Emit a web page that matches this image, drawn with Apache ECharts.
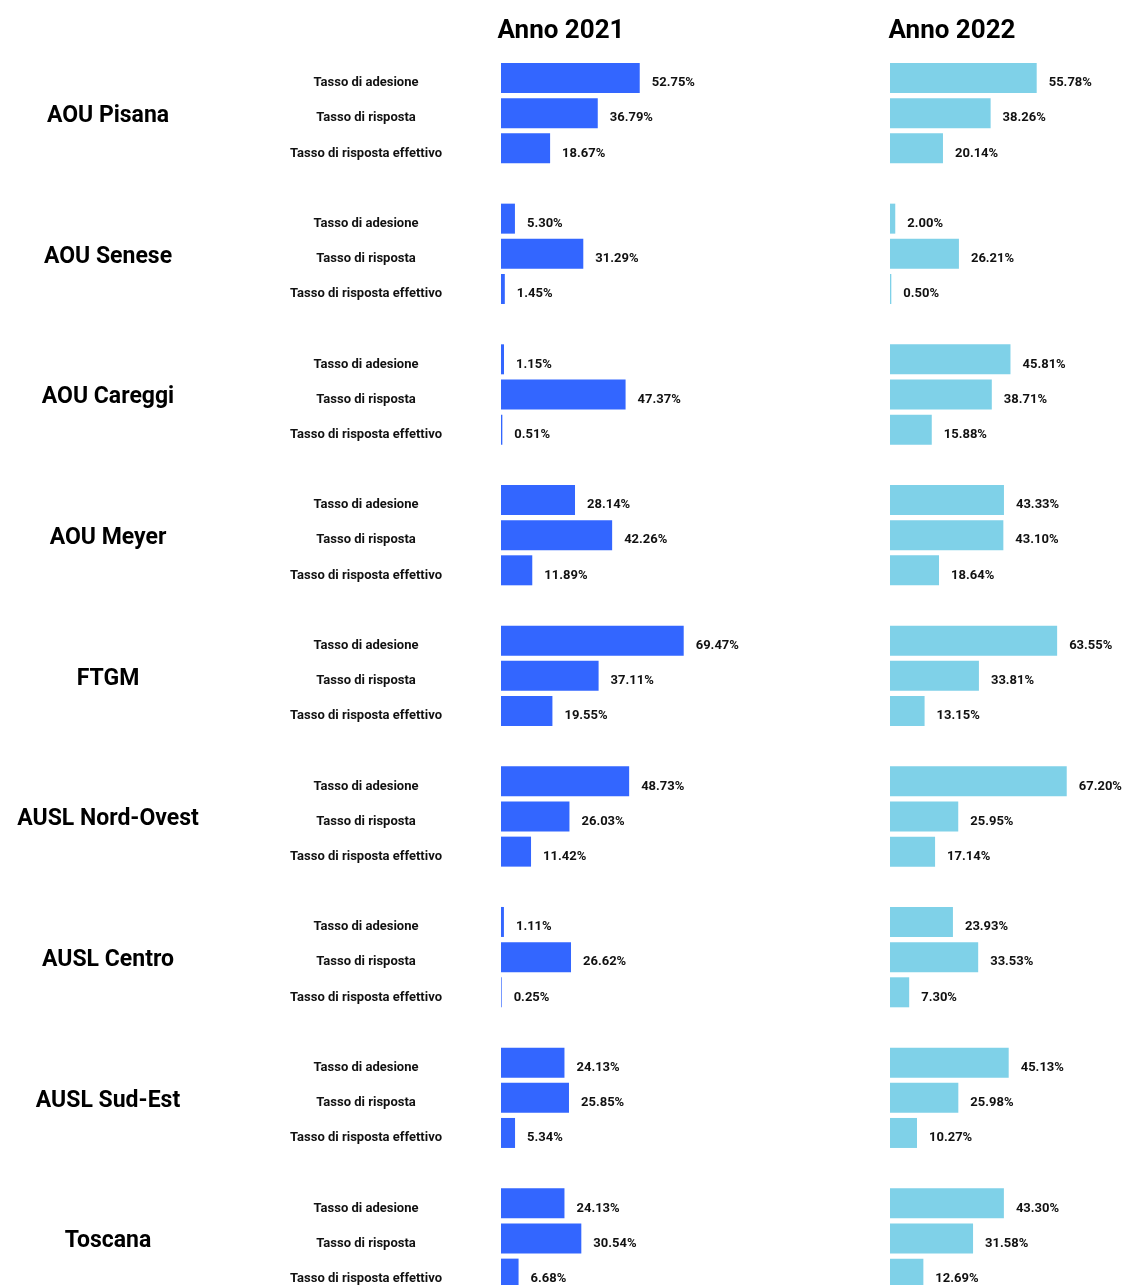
<!DOCTYPE html>
<html>
<head>
<meta charset="utf-8">
<script src="https://cdn.jsdelivr.net/npm/echarts@6/dist/echarts.min.js"></script>
<style>
    html, body { margin: 0; padding: 0; background: #fff; }
    #chart { width: 1124px; height: 1285px; }
</style>
</head>
<body>
<div id="chart"></div>
<script>
// aziende e indicatori
var groups = ['AOU Pisana', 'AOU Senese', 'AOU Careggi', 'AOU Meyer', 'FTGM',
    'AUSL Nord-Ovest', 'AUSL Centro', 'AUSL Sud-Est', 'Toscana'];
var measures = ['Tasso di adesione', 'Tasso di risposta', 'Tasso di risposta effettivo'];
var years = ['Anno 2021', 'Anno 2022'];

// valori per azienda: [adesione, risposta, risposta effettivo]
var values2021 = [
    [52.75, 36.79, 18.67],
    [5.30, 31.29, 1.45],
    [1.15, 47.37, 0.51],
    [28.14, 42.26, 11.89],
    [69.47, 37.11, 19.55],
    [48.73, 26.03, 11.42],
    [1.11, 26.62, 0.25],
    [24.13, 25.85, 5.34],
    [24.13, 30.54, 6.68]
];
var values2022 = [
    [55.78, 38.26, 20.14],
    [2.00, 26.21, 0.50],
    [45.81, 38.71, 15.88],
    [43.33, 43.10, 18.64],
    [63.55, 33.81, 13.15],
    [67.20, 25.95, 17.14],
    [23.93, 33.53, 7.30],
    [45.13, 25.98, 10.27],
    [43.30, 31.58, 12.69]
];

var FONT = "Roboto, 'Liberation Sans', sans-serif";

// una riga vuota tra un gruppo e l'altro
var measureCats = [], groupCats = [], data2021 = [], data2022 = [];
groups.forEach(function (g, i) {
    measures.forEach(function (m, j) {
        measureCats.push(m);
        groupCats.push(j === 1 ? g : '');
        data2021.push(values2021[i][j]);
        data2022.push(values2022[i][j]);
    });
    if (i < groups.length - 1) {
        measureCats.push('');
        groupCats.push('');
        data2021.push('-');
        data2022.push('-');
    }
});

var chart = echarts.init(document.getElementById('chart'));

var gridTop = 60.4, gridH = 35.166 * measureCats.length;

function valueLabel() {
    return {
        show: true,
        position: 'right',
        distance: 12,
        offset: [0, 5],
        color: '#111',
        fontFamily: FONT,
        fontWeight: 'bold',
        fontSize: 13,
        formatter: function (p) { return p.value.toFixed(2) + '%'; }
    };
}

chart.setOption({
    animation: false,
    title: [
        { text: years[0], left: 556, top: 13, textAlign: 'center',
          textStyle: { fontFamily: FONT, fontWeight: 'bold', fontSize: 26, color: '#000' } },
        { text: years[1], left: 947, top: 13, textAlign: 'center',
          textStyle: { fontFamily: FONT, fontWeight: 'bold', fontSize: 26, color: '#000' } }
    ],
    // il grafico prosegue oltre il bordo inferiore, come nell'originale
    grid: [
        { left: 501, top: gridTop, width: 210.4, height: gridH, outerBoundsMode: 'none' },
        { left: 890, top: gridTop, width: 210.4, height: gridH, outerBoundsMode: 'none' }
    ],
    xAxis: [
        { type: 'value', gridIndex: 0, min: 0, max: 80, show: false },
        { type: 'value', gridIndex: 1, min: 0, max: 80, show: false }
    ],
    yAxis: [
        {
            type: 'category', gridIndex: 0, inverse: true, data: measureCats,
            axisLine: { show: false }, axisTick: { show: false },
            axisLabel: {
                interval: 0, align: 'center', margin: 135,
                verticalAlign: 'top', lineHeight: 10,
                fontFamily: FONT, fontWeight: 'bold', fontSize: 13, color: '#111'
            }
        },
        {
            type: 'category', gridIndex: 0, inverse: true, data: groupCats, position: 'left',
            axisLine: { show: false }, axisTick: { show: false },
            axisLabel: {
                interval: 0, align: 'center', margin: 393,
                verticalAlign: 'top', lineHeight: 6,
                fontFamily: FONT, fontWeight: 'bold', fontSize: 23, color: '#000'
            }
        },
        {
            type: 'category', gridIndex: 1, inverse: true, data: measureCats,
            axisLine: { show: false }, axisTick: { show: false }, axisLabel: { show: false }
        }
    ],
    series: [
        {
            name: years[0], type: 'bar', xAxisIndex: 0, yAxisIndex: 0,
            data: data2021, barWidth: 30,
            itemStyle: { color: '#3366ff' },
            label: valueLabel()
        },
        {
            name: years[1], type: 'bar', xAxisIndex: 1, yAxisIndex: 2,
            data: data2022, barWidth: 30,
            itemStyle: { color: '#7fd1e8' },
            label: valueLabel()
        }
    ]
});
</script>
</body>
</html>
